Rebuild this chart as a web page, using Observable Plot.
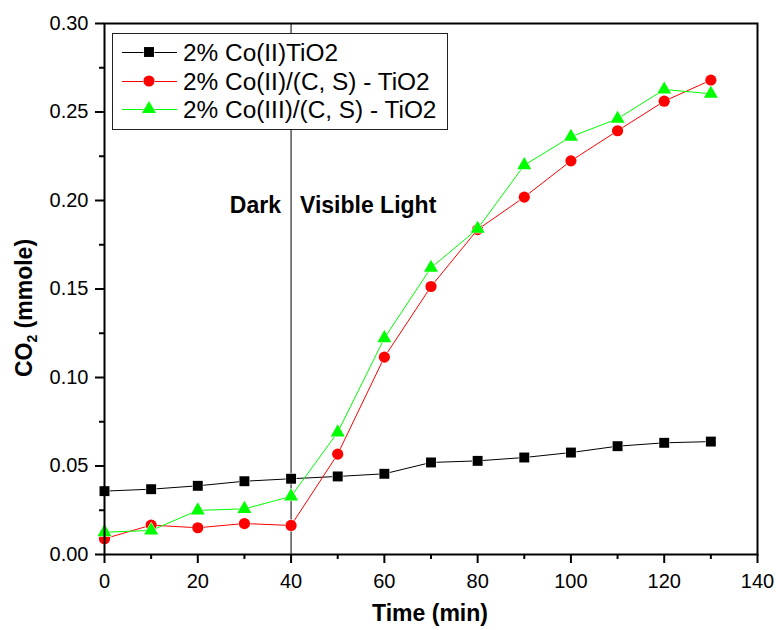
<!DOCTYPE html>
<html>
<head>
<meta charset="utf-8">
<script src="https://cdn.jsdelivr.net/npm/d3@7"></script>
<script src="https://cdn.jsdelivr.net/npm/@observablehq/plot@0.6"></script>
<style>
  html, body { margin: 0; padding: 0; background: white; }
</style>
</head>
<body>
<div id="chart"></div>
<script>
const times = [0, 10, 20, 30, 40, 50, 60, 70, 80, 90, 100, 110, 120, 130];
const coTiO2 = [0.0358, 0.0369, 0.0388, 0.0414, 0.0428, 0.0441, 0.0456, 0.0520, 0.0529, 0.0548, 0.0576, 0.0612, 0.0631, 0.0638];
const coCS = [0.0089, 0.0166, 0.0151, 0.0175, 0.0164, 0.0567, 0.1115, 0.1514, 0.1836, 0.2019, 0.2224, 0.2394, 0.2561, 0.2680];
const co3CS = [0.0126, 0.0136, 0.0249, 0.0258, 0.0328, 0.0690, 0.1222, 0.1620, 0.1840, 0.2200, 0.2360, 0.2462, 0.2627, 0.2603];
const seriesNames = ["2% Co(II)TiO2", "2% Co(II)/(C, S) - TiO2", "2% Co(III)/(C, S) - TiO2"];
const seriesColors = ["#000000", "#ff0000", "#00ff00"];
const seriesSymbols = ["square", "circle", "triangle"];
const seriesR = [5.6, 5.6, 5.2];
const xMajor = [0, 20, 40, 60, 80, 100, 120, 140];
const xMinor = [10, 30, 50, 70, 90, 110, 130];
const yMajor = [0, 0.05, 0.10, 0.15, 0.20, 0.25, 0.30];
const yMinor = [0.025, 0.075, 0.125, 0.175, 0.225, 0.275];
const divider = [40];

const allSeries = [coTiO2, coCS, co3CS];
const rows = [];
allSeries.forEach((vals, i) => vals.forEach((v, j) => rows.push({t: times[j], v, s: seriesNames[i]})));

const font = "'Liberation Sans', Arial, sans-serif";

const marks = [
  Plot.axisX({ticks: xMajor, tickSize: 9, tickPadding: 10, tickFormat: d => d, label: null, strokeWidth: 2, fontSize: 20}),
  Plot.axisX({ticks: xMinor, tickSize: 5, tickFormat: () => "", label: null, strokeWidth: 2}),
  Plot.axisY({ticks: yMajor, tickSize: 9, tickPadding: 7, tickFormat: d3.format(".2f"), label: null, strokeWidth: 2, fontSize: 20}),
  Plot.axisY({ticks: yMinor, tickSize: 5, tickFormat: () => "", label: null, strokeWidth: 2}),
  Plot.ruleX(divider, {stroke: "black", strokeWidth: 1}),
];
seriesNames.forEach((name, i) => {
  const d = rows.filter(r => r.s === name);
  marks.push(Plot.line(d, {x: "t", y: "v", stroke: seriesColors[i], strokeWidth: 1}));
});
seriesNames.forEach((name, i) => {
  const d = rows.filter(r => r.s === name);
  marks.push(Plot.dot(d, {x: "t", y: "v", symbol: () => seriesSymbols[i], r: seriesR[i], fill: seriesColors[i], stroke: "white", strokeWidth: 1, paintOrder: "stroke"}));
});
marks.push(Plot.frame({stroke: "black", strokeWidth: 2}));

const chart = Plot.plot({
  width: 776,
  height: 630,
  marginLeft: 104,
  marginRight: 19,
  marginTop: 23,
  marginBottom: 76,
  style: {fontFamily: font, fontSize: "20px", color: "black", background: "white"},
  x: {domain: [0, 140]},
  y: {domain: [0, 0.3]},
  marks
});
document.getElementById("chart").appendChild(chart);

const svg = d3.select(chart);
// Annotations
svg.append("text").attr("x", 281).attr("y", 213).attr("text-anchor", "end")
  .attr("font-family", font).attr("font-weight", "bold").attr("font-size", 23).attr("fill", "black").text("Dark");
svg.append("text").attr("x", 300).attr("y", 213).attr("text-anchor", "start")
  .attr("font-family", font).attr("font-weight", "bold").attr("font-size", 23).attr("fill", "black").text("Visible Light");

// Axis titles
svg.append("text").attr("x", 430).attr("y", 621).attr("text-anchor", "middle")
  .attr("font-family", font).attr("font-weight", "bold").attr("font-size", 23).attr("fill", "black").text("Time (min)");
const yt = svg.append("text").attr("transform", "translate(32,308) rotate(-90)").attr("text-anchor", "middle")
  .attr("font-family", font).attr("font-weight", "bold").attr("font-size", 23).attr("fill", "black");
yt.append("tspan").text("CO");
yt.append("tspan").attr("font-size", 14).attr("dy", 5).text("2");
yt.append("tspan").attr("dy", -5).text(" (mmole)");

// Legend
const lg = svg.append("g").attr("text-anchor", "start");
lg.append("rect").attr("x", 112.5).attr("y", 33.5).attr("width", 335).attr("height", 96)
  .attr("fill", "white").attr("stroke", "#222").attr("stroke-width", 1);
const rowY = [52, 81, 109];
seriesNames.forEach((name, i) => {
  const y = rowY[i];
  lg.append("line").attr("x1", 122).attr("x2", 177).attr("y1", y + 0.5).attr("y2", y + 0.5)
    .attr("stroke", seriesColors[i]).attr("stroke-width", 1);
  const sym = d3.symbol(d3["symbol" + seriesSymbols[i][0].toUpperCase() + seriesSymbols[i].slice(1)], Math.PI * seriesR[i] * seriesR[i]);
  lg.append("path").attr("d", sym()).attr("transform", `translate(149,${y})`)
    .attr("fill", seriesColors[i]).attr("stroke", "white").attr("stroke-width", 1).attr("paint-order", "stroke");
  lg.append("text").attr("x", 183).attr("y", y + 8.5).attr("text-anchor", "start").attr("font-family", font).attr("font-size", 24.4)
    .attr("fill", "black").text(name);
});
</script>
</body>
</html>
